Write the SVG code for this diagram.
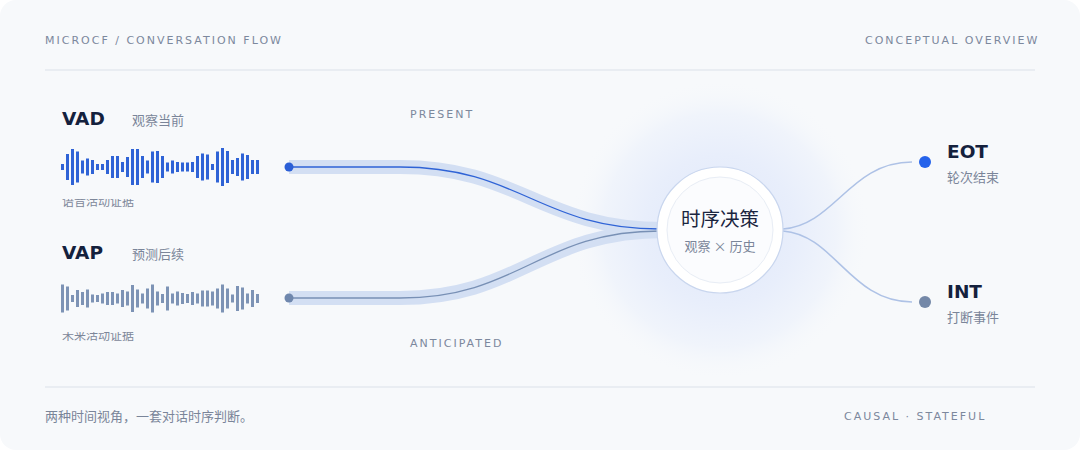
<svg xmlns="http://www.w3.org/2000/svg" width="1080" height="450" viewBox="0 0 1080 450">
<defs>
<style>
.cap{font-family:"DejaVu Sans","Noto Sans CJK SC",sans-serif;font-size:11px;letter-spacing:2px;fill:#7c889d}
.ttl{font-family:"DejaVu Sans","Noto Sans CJK SC",sans-serif;font-size:18.5px;font-weight:bold;fill:#14213d}
.sub{font-family:"Noto Sans CJK SC","DejaVu Sans",sans-serif;font-size:13px;fill:#7a8599}
.ev{font-family:"Noto Sans CJK SC","DejaVu Sans",sans-serif;font-size:12px;fill:#7d8799}
.vad rect{fill:#2f63d6}
.vap rect{fill:#7d93b5}
.band{fill:none;stroke:#d3dff3;stroke-width:14}
.out{fill:none;stroke:#aec2e6;stroke-width:1.5}
</style>
<radialGradient id="glow" cx="720" cy="230" r="150" gradientUnits="userSpaceOnUse">
<stop offset="0" stop-color="#dfe7fa"/>
<stop offset="0.5" stop-color="#e8eefb"/>
<stop offset="0.78" stop-color="#f0f4fb"/>
<stop offset="1" stop-color="#f7f9fb" stop-opacity="0"/>
</radialGradient>
<clipPath id="clipVad"><rect x="40" y="199" width="200" height="20"/></clipPath>
<clipPath id="clipVap"><rect x="40" y="332" width="200" height="20"/></clipPath>
</defs>
<rect width="1080" height="450" fill="#ffffff"/>
<rect width="1080" height="450" rx="16" fill="#f7f9fb"/>

<g id="header">
<text class="cap" x="45" y="44">MICROCF / CONVERSATION FLOW</text>
<text class="cap" x="865" y="44">CONCEPTUAL OVERVIEW</text>
<line x1="45" y1="70" x2="1035" y2="70" stroke="#e4e8ef" stroke-width="1.5"/>
</g>

<circle cx="720" cy="230" r="150" fill="url(#glow)"/>

<g id="connectors">
<path class="band" d="M289 167 H400 C520 167 540 229 665 229"/>
<path class="band" d="M289 298 H400 C520 298 540 231 665 231"/>
<path d="M289 167 H400 C520 167 540 229 660 229" fill="none" stroke="#2f63d6" stroke-width="1.3"/>
<path d="M289 298 H400 C520 298 540 231 660 231" fill="none" stroke="#7890b5" stroke-width="1.3"/>
<circle cx="289" cy="167" r="4.5" fill="#2b5fd6"/>
<circle cx="289" cy="298" r="4.5" fill="#6f87ad"/>
<path class="out" d="M783 229 C835 225 850 162 912 162"/>
<path class="out" d="M783 231 C835 235 850 302 912 302"/>
<text class="cap" x="410" y="118">PRESENT</text>
<text class="cap" x="410" y="347">ANTICIPATED</text>
</g>

<g id="node-vad">
<text class="ttl" x="62" y="125">VAD</text>
<text class="sub" x="132" y="125">观察当前</text>
<g class="vad">
<rect x="61" y="164" width="3" height="6"/>
<rect x="66" y="154" width="3" height="26"/>
<rect x="71" y="149" width="3" height="36"/>
<rect x="76" y="151.5" width="3" height="31"/>
<rect x="81" y="160.5" width="3" height="13"/>
<rect x="86" y="158.5" width="3" height="17"/>
<rect x="91" y="160" width="3" height="14"/>
<rect x="96" y="164" width="3" height="6"/>
<rect x="101" y="164" width="3" height="6"/>
<rect x="106" y="160" width="3" height="14"/>
<rect x="111" y="156" width="3" height="22"/>
<rect x="116" y="156" width="3" height="22"/>
<rect x="121" y="162" width="3" height="10"/>
<rect x="126" y="157" width="3" height="20"/>
<rect x="131" y="149" width="3" height="36"/>
<rect x="136" y="149" width="3" height="36"/>
<rect x="141" y="156" width="3" height="22"/>
<rect x="146" y="160.5" width="3" height="13"/>
<rect x="151" y="151.5" width="3" height="31"/>
<rect x="156" y="151" width="3" height="32"/>
<rect x="161" y="156" width="3" height="22"/>
<rect x="166" y="162.5" width="3" height="9"/>
<rect x="171" y="160.5" width="3" height="13"/>
<rect x="176" y="162" width="3" height="10"/>
<rect x="181" y="162.5" width="3" height="9"/>
<rect x="186" y="162.5" width="3" height="9"/>
<rect x="191" y="162" width="3" height="10"/>
<rect x="196" y="156" width="3" height="22"/>
<rect x="201" y="153.5" width="3" height="27"/>
<rect x="206" y="154.5" width="3" height="25"/>
<rect x="211" y="164" width="3" height="6"/>
<rect x="216" y="151.5" width="3" height="31"/>
<rect x="221" y="148" width="3" height="38"/>
<rect x="226" y="151" width="3" height="32"/>
<rect x="231" y="160" width="3" height="14"/>
<rect x="236" y="158" width="3" height="18"/>
<rect x="241" y="153.5" width="3" height="27"/>
<rect x="246" y="155" width="3" height="24"/>
<rect x="251" y="160" width="3" height="14"/>
<rect x="256" y="160" width="3" height="14"/>
</g>
<text class="ev" x="62" y="206" clip-path="url(#clipVad)">语音活动证据</text>
</g>

<g id="node-vap">
<text class="ttl" x="62" y="259">VAP</text>
<text class="sub" x="132" y="259">预测后续</text>
<g class="vap">
<rect x="61" y="284.5" width="3" height="28"/>
<rect x="66" y="286.5" width="3" height="24"/>
<rect x="71" y="295" width="3" height="7"/>
<rect x="76" y="290" width="3" height="17"/>
<rect x="81" y="292" width="3" height="13"/>
<rect x="86" y="289.5" width="3" height="18"/>
<rect x="91" y="294.5" width="3" height="8"/>
<rect x="96" y="295" width="3" height="7"/>
<rect x="101" y="293.5" width="3" height="10"/>
<rect x="106" y="292" width="3" height="13"/>
<rect x="111" y="292" width="3" height="13"/>
<rect x="116" y="293.5" width="3" height="10"/>
<rect x="121" y="290" width="3" height="17"/>
<rect x="126" y="291.5" width="3" height="14"/>
<rect x="131" y="285" width="3" height="27"/>
<rect x="136" y="289.5" width="3" height="18"/>
<rect x="141" y="293.5" width="3" height="10"/>
<rect x="146" y="288.5" width="3" height="20"/>
<rect x="151" y="284.5" width="3" height="28"/>
<rect x="156" y="291.5" width="3" height="14"/>
<rect x="161" y="294" width="3" height="9"/>
<rect x="166" y="286.5" width="3" height="24"/>
<rect x="171" y="293.5" width="3" height="10"/>
<rect x="176" y="291.5" width="3" height="14"/>
<rect x="181" y="293" width="3" height="11"/>
<rect x="186" y="294" width="3" height="9"/>
<rect x="191" y="292" width="3" height="13"/>
<rect x="196" y="293.5" width="3" height="10"/>
<rect x="201" y="290.5" width="3" height="16"/>
<rect x="206" y="290.5" width="3" height="16"/>
<rect x="211" y="291.5" width="3" height="14"/>
<rect x="216" y="288.5" width="3" height="20"/>
<rect x="221" y="284.5" width="3" height="28"/>
<rect x="226" y="288.5" width="3" height="20"/>
<rect x="231" y="294.5" width="3" height="8"/>
<rect x="236" y="286" width="3" height="25"/>
<rect x="241" y="287.5" width="3" height="22"/>
<rect x="246" y="293.5" width="3" height="10"/>
<rect x="251" y="290" width="3" height="17"/>
<rect x="256" y="294" width="3" height="9"/>
</g>
<text class="ev" x="62" y="340" clip-path="url(#clipVap)">未来活动证据</text>
</g>

<g id="node-center">
<circle cx="720" cy="230" r="63" fill="#ffffff" stroke="#c9d6ee" stroke-width="1.2"/>
<circle cx="720" cy="230" r="53" fill="#fbfcfe" stroke="#e8edf5" stroke-width="1"/>
<text x="720" y="226" text-anchor="middle" font-family="Noto Sans CJK SC, DejaVu Sans, sans-serif" font-size="19.5" fill="#1a2540">时序决策</text>
<text x="720" y="251" text-anchor="middle" font-family="Noto Sans CJK SC, DejaVu Sans, sans-serif" font-size="13" fill="#7a8599">观察 × 历史</text>
</g>

<g id="node-eot">
<circle cx="925" cy="162" r="6" fill="#2563eb"/>
<text class="ttl" x="947" y="158">EOT</text>
<text class="sub" x="947" y="182">轮次结束</text>
</g>

<g id="node-int">
<circle cx="925" cy="302" r="6" fill="#7488a8"/>
<text class="ttl" x="947" y="298">INT</text>
<text class="sub" x="947" y="322">打断事件</text>
</g>

<g id="footer">
<line x1="45" y1="387" x2="1035" y2="387" stroke="#e4e8ef" stroke-width="1.5"/>
<text class="sub" x="45" y="421" fill="#6f7b90">两种时间视角，一套对话时序判断。</text>
<text class="cap" x="844" y="420">CAUSAL · STATEFUL</text>
</g>
</svg>
